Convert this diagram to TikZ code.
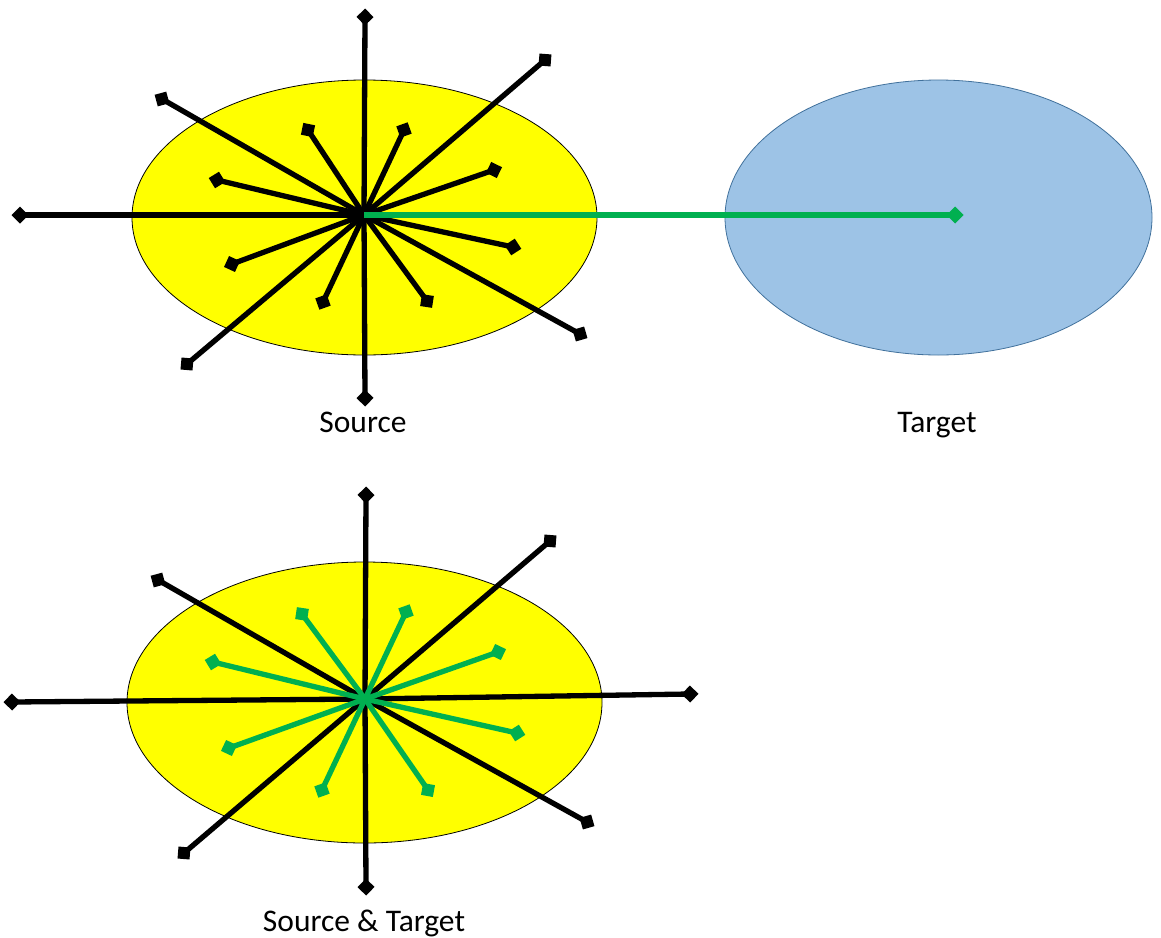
\documentclass[tikz,border=0pt]{standalone}
\usepackage{fontspec}
\setmainfont{Carlito}
\usetikzlibrary{arrows.meta}
\definecolor{rayg}{HTML}{00B050}
\definecolor{srcy}{HTML}{FFFF00}
\definecolor{tgtb}{HTML}{9DC3E6}
\definecolor{tgtbd}{HTML}{41719C}
\begin{document}
\begin{tikzpicture}[x=1pt,y=-1pt,
  ray/.style={line width=5.3pt, -{Diamond[length=17pt,width=17pt]}, shorten >=-8.5pt},
  blackray/.style={ray, draw=black},
  greenray/.style={ray, draw=rayg},
  srcell/.style={draw=black, line width=0.8pt, fill=srcy},
  tgtell/.style={draw=tgtbd, line width=0.8pt, fill=tgtb},
  lbl/.style={font=\fontsize{31.5}{36}\selectfont, anchor=base, inner sep=0pt}
]
\fill[white] (0,0) rectangle (1161,937);
\useasboundingbox (0,0) rectangle (1161,937);

% ---------- top: Source ----------
\path[srcell] (364.5,217.5) ellipse [x radius=232.5, y radius=137.5];
\path[tgtell] (938.5,217.5) ellipse [x radius=213.5, y radius=137.5];
\coordinate (topctr) at (364,215);
\foreach \n/\px/\py in {u/365/17, d/365/398, l/20/215, ur/545/60, ul/162/99,
                   dl/187/364, dr/580/334,
                   a/308/130, b/404/130, c/217/180, e/494/170,
                   f/232/264, g/513/247, h/323/302, i/427/301}{
  \coordinate (top-\n) at (\px,\py);
  \draw[blackray] (topctr) -- (top-\n);
}
\coordinate (tgtctr) at (955,215);
\draw[greenray] (topctr) -- (tgtctr);
\node[lbl] (lsrc) at (363,432) {Source};
\node[lbl] (ltgt) at (937,432) {Target};

% ---------- bottom: Source & Target ----------
\path[srcell] (364.5,702.5) ellipse [x radius=237.5, y radius=140.5];
\coordinate (botctr) at (365,699);
\foreach \n/\px/\py in {u/366/495, d/366/887, l/12/702, r/690/694,
                   ur/550/541, ul/158/580, dl/184/853, dr/587/822}{
  \coordinate (bot-\n) at (\px,\py);
  \draw[blackray] (botctr) -- (bot-\n);
}
\foreach \n/\px/\py in {a/302/614, b/406/612, c/213/662, e/498/652,
                   f/229/748, g/517/733, h/322/790, i/428/790}{
  \coordinate (grn-\n) at (\px,\py);
  \draw[greenray] (botctr) -- (grn-\n);
}
\node[lbl] (lboth) at (364,931) {Source \& Target};
\end{tikzpicture}
\end{document}
